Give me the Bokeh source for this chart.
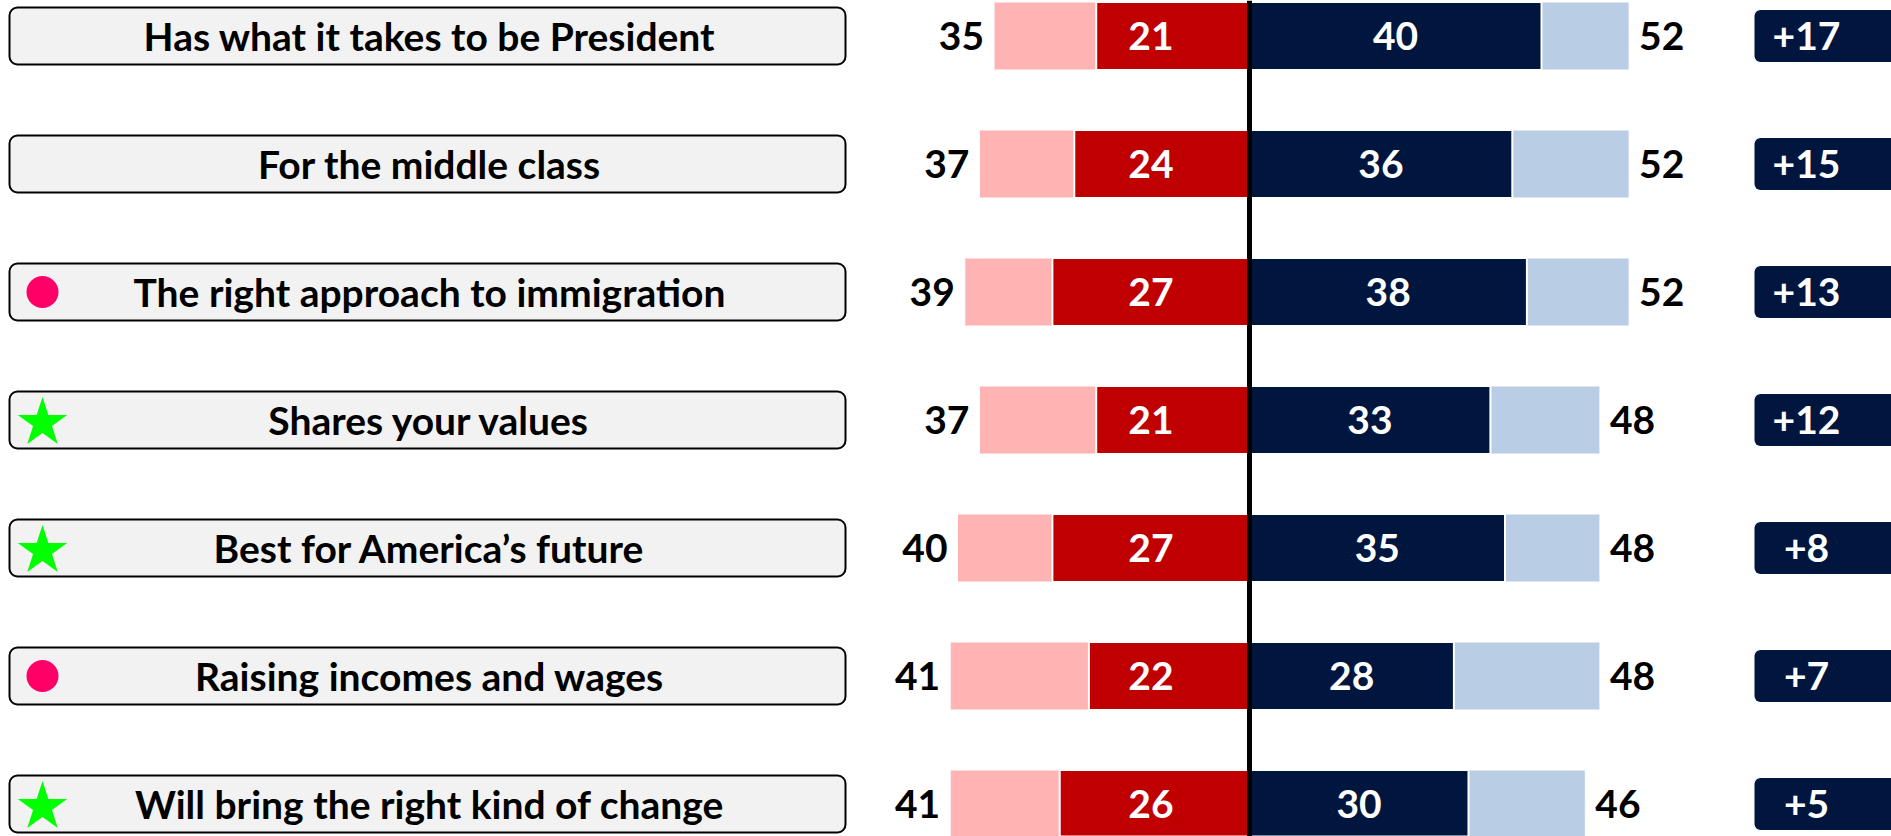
import numpy as np
from bokeh.plotting import figure
from bokeh.models import ColumnDataSource, Range1d, Span
from bokeh.core.properties import value
from bokeh.embed import file_html
from bokeh.resources import INLINE

# ---- data ----
categories = [
    "Has what it takes to be President",
    "For the middle class",
    "The right approach to immigration",
    "Shares your values",
    "Best for America\u2019s future",
    "Raising incomes and wages",
    "Will bring the right kind of change",
]
rep_total = [35, 37, 39, 37, 40, 41, 41]
rep_strong = [21, 24, 27, 21, 27, 22, 26]
dem_strong = [40, 36, 38, 33, 35, 28, 30]
dem_total = [52, 52, 52, 48, 48, 48, 46]
net_lead = [17, 15, 13, 12, 8, 7, 5]
row_marker = ["", "", "circle", "star", "star", "circle", "star"]

FONT = value("Lato")
FS = "39px"

n = len(categories)
ys = list(range(n - 1, -1, -1))  # top row highest

src = ColumnDataSource(dict(
    y=ys,
    cat=categories,
    rep_total_neg=[-v for v in rep_total],
    rep_strong_neg=[-v for v in rep_strong],
    dem_total=dem_total,
    dem_strong=dem_strong,
    dem_mid=[v / 2 for v in dem_strong],
    rep_total_lbl=[str(v) for v in rep_total],
    rep_strong_lbl=[str(v) for v in rep_strong],
    dem_total_lbl=[str(v) for v in dem_total],
    dem_strong_lbl=[str(v) for v in dem_strong],
    net_lbl=["+%d" % v for v in net_lead],
))

W, H = 1891, 836
px_per_unit = 7.3
center_px = 1249
x0 = -center_px / px_per_unit
x1 = (W - center_px) / px_per_unit
row_px = 128.0
ymin = -(H - 803.5) / row_px
ymax = ymin + H / row_px

p = figure(width=W, height=H, output_backend="svg", toolbar_location=None,
           x_range=Range1d(x0, x1), y_range=Range1d(ymin, ymax),
           min_border=0, outline_line_color=None, background_fill_color="white",
           border_fill_color="white")
p.extra_x_ranges = {"px": Range1d(0, W)}
p.axis.visible = False
p.xgrid.visible = False
p.ygrid.visible = False

bar_h = 68 / row_px
bar_dy = 2 / row_px

# light bars (totals)
p.hbar(y="y", left="rep_total_neg", right=0, height=bar_h, source=src,
       fill_color="#FFB3B3", line_color="white", line_width=1)
p.hbar(y="y", left=0, right="dem_total", height=bar_h, source=src,
       fill_color="#B9CDE5", line_color="white", line_width=1)
# strong bars
p.hbar(y="y", left="rep_strong_neg", right=0, height=bar_h, source=src,
       fill_color="#C00000", line_color="white", line_width=2)
p.hbar(y="y", left=0, right="dem_strong", height=bar_h, source=src,
       fill_color="#00163F", line_color="white", line_width=2)

# center line
p.add_layout(Span(location=0, dimension="height", line_color="black", line_width=5))

# numbers
p.text(x=-13.5, y="y", text="rep_strong_lbl", source=src, text_color="white",
       text_font=FONT, text_font_style="bold", text_font_size=FS,
       text_align="center", text_baseline="middle")
p.text(x="dem_mid", y="y", text="dem_strong_lbl", source=src, text_color="white",
       text_font=FONT, text_font_style="bold", text_font_size=FS,
       text_align="center", text_baseline="middle")
p.text(x="rep_total_neg", y="y", text="rep_total_lbl", source=src, text_color="black",
       x_offset=-10, text_font=FONT, text_font_style="bold", text_font_size=FS,
       text_align="right", text_baseline="middle")
p.text(x="dem_total", y="y", text="dem_total_lbl", source=src, text_color="black",
       x_offset=10, text_font=FONT, text_font_style="bold", text_font_size=FS,
       text_align="left", text_baseline="middle")

# label boxes
p.rect(x=427, y="y", width=836, height=57 / row_px, source=src, x_range_name="px",
       fill_color="#F2F2F2", line_color="black", line_width=2, border_radius=8)
p.text(x=429, y="y", text="cat", source=src, x_range_name="px", text_color="black",
       text_font=FONT, text_font_style="bold", text_font_size=FS,
       text_align="center", text_baseline="middle")

# row markers
circ_y = [y for y, m in zip(ys, row_marker) if m == "circle"]
star_y = [y - 3 / row_px for y, m in zip(ys, row_marker) if m == "star"]
p.scatter(x=[42] * len(circ_y), y=circ_y, x_range_name="px", marker="circle",
          size=32, fill_color="#FF0066", line_color=None)
p.scatter(x=[42] * len(star_y), y=star_y, x_range_name="px", marker="star",
          size=52, fill_color="#00FF00", line_color=None)

# net lead boxes
p.rect(x=1830, y="y", width=152, height=52 / row_px, source=src, x_range_name="px",
       fill_color="#00163F", line_color=None, border_radius=6)
p.text(x=1806, y="y", text="net_lbl", source=src, x_range_name="px", text_color="white",
       text_font=FONT, text_font_style="bold", text_font_size=FS,
       text_align="center", text_baseline="middle")

open("out.html", "w").write(file_html(p, INLINE))
